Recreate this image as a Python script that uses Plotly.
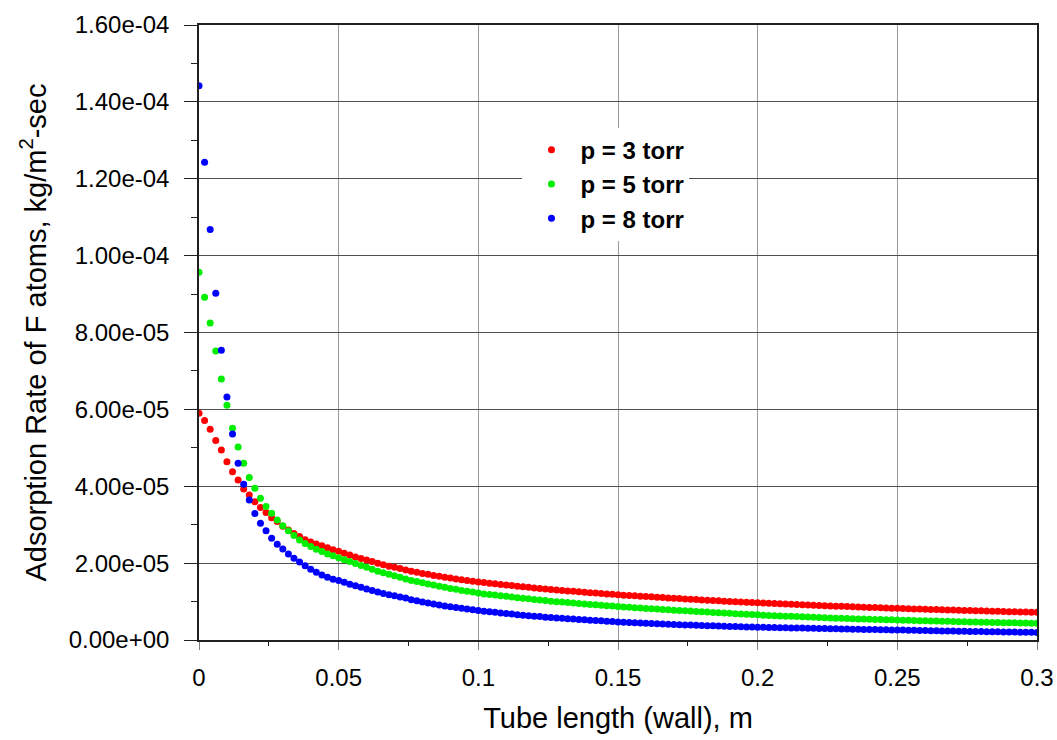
import numpy as np
import plotly.graph_objects as go

# Tube length along the wall, m (step 0.002 m, 151 stations)
tube_length = [round(0.002 * i, 3) for i in range(151)]

# Adsorption rate of F atoms, in units of 1e-5 kg/m^2-sec
rate_3torr = [
    5.90, 5.71, 5.48, 5.19, 4.94, 4.64, 4.38, 4.16, 3.93, 3.77,
    3.60, 3.45, 3.32, 3.18, 3.08, 2.96, 2.86, 2.77, 2.69, 2.61,
    2.55, 2.50, 2.45, 2.40, 2.35, 2.31, 2.26, 2.21, 2.16, 2.12,
    2.08, 2.04, 2.00, 1.96, 1.92, 1.89, 1.86, 1.82, 1.79, 1.76,
    1.73, 1.71, 1.68, 1.66, 1.63, 1.61, 1.59, 1.57, 1.55, 1.53,
    1.51, 1.494, 1.478, 1.462, 1.446, 1.430, 1.415, 1.400, 1.385, 1.370,
    1.356, 1.342, 1.328, 1.314, 1.302, 1.290, 1.278, 1.266, 1.254, 1.242,
    1.231, 1.220, 1.209, 1.198, 1.187, 1.176, 1.167, 1.158, 1.149, 1.140,
    1.131, 1.122, 1.113, 1.104, 1.095, 1.086, 1.077, 1.068, 1.059, 1.051,
    1.043, 1.035, 1.027, 1.019, 1.011, 1.003, 0.995, 0.988, 0.981, 0.974,
    0.967, 0.960, 0.953, 0.947, 0.940, 0.934, 0.928, 0.922, 0.916, 0.910,
    0.904, 0.898, 0.892, 0.886, 0.880, 0.875, 0.869, 0.864, 0.858, 0.853,
    0.848, 0.843, 0.838, 0.833, 0.828, 0.823, 0.818, 0.813, 0.809, 0.804,
    0.800, 0.795, 0.791, 0.787, 0.782, 0.778, 0.774, 0.770, 0.766, 0.762,
    0.758, 0.754, 0.750, 0.746, 0.742, 0.738, 0.735, 0.731, 0.728, 0.724,
    0.721,
]

rate_5torr = [
    9.57, 8.92, 8.25, 7.52, 6.79, 6.11, 5.51, 5.02, 4.60, 4.23,
    3.95, 3.69, 3.47, 3.30, 3.12, 2.97, 2.84, 2.72, 2.60, 2.51,
    2.43, 2.36, 2.30, 2.24, 2.19, 2.14, 2.09, 2.04, 1.99, 1.94,
    1.89, 1.84, 1.79, 1.75, 1.71, 1.67, 1.63, 1.59, 1.55, 1.52,
    1.49, 1.46, 1.43, 1.40, 1.37, 1.34, 1.32, 1.29, 1.27, 1.25,
    1.22, 1.20, 1.185, 1.17, 1.15, 1.135, 1.12, 1.10, 1.085, 1.07,
    1.055, 1.04, 1.025, 1.01, 0.998, 0.986, 0.974, 0.962, 0.950, 0.938,
    0.926, 0.915, 0.904, 0.893, 0.882, 0.871, 0.861, 0.851, 0.841, 0.831,
    0.822, 0.813, 0.804, 0.795, 0.786, 0.777, 0.768, 0.760, 0.752, 0.744,
    0.735, 0.727, 0.718, 0.710, 0.702, 0.694, 0.686, 0.678, 0.670, 0.662,
    0.654, 0.647, 0.640, 0.634, 0.627, 0.621, 0.615, 0.609, 0.603, 0.597,
    0.591, 0.585, 0.580, 0.574, 0.569, 0.564, 0.559, 0.554, 0.549, 0.544,
    0.540, 0.536, 0.532, 0.528, 0.524, 0.520, 0.516, 0.512, 0.508, 0.504,
    0.500, 0.496, 0.492, 0.489, 0.485, 0.482, 0.478, 0.475, 0.471, 0.468,
    0.465, 0.461, 0.458, 0.455, 0.452, 0.449, 0.446, 0.443, 0.440, 0.437,
    0.434,
]

rate_8torr = [
    14.42, 12.43, 10.68, 9.02, 7.54, 6.32, 5.36, 4.60, 4.05, 3.64,
    3.29, 3.04, 2.84, 2.65, 2.49, 2.37, 2.24, 2.13, 2.03, 1.93,
    1.84, 1.76, 1.69, 1.63, 1.58, 1.55, 1.50, 1.45, 1.41, 1.37,
    1.33, 1.29, 1.25, 1.21, 1.18, 1.15, 1.12, 1.09, 1.05, 1.02,
    0.99, 0.96, 0.935, 0.91, 0.885, 0.865, 0.845, 0.825, 0.805, 0.785,
    0.765, 0.75, 0.735, 0.72, 0.705, 0.69, 0.675, 0.66, 0.645, 0.63,
    0.62, 0.61, 0.595, 0.585, 0.575, 0.565, 0.555, 0.545, 0.535, 0.525,
    0.515, 0.505, 0.50, 0.49, 0.48, 0.47, 0.463, 0.456, 0.449, 0.442,
    0.435, 0.429, 0.423, 0.417, 0.411, 0.405, 0.399, 0.393, 0.388, 0.383,
    0.378, 0.373, 0.368, 0.363, 0.358, 0.353, 0.349, 0.345, 0.341, 0.337,
    0.333, 0.330, 0.327, 0.324, 0.321, 0.318, 0.315, 0.312, 0.309, 0.306,
    0.303, 0.300, 0.297, 0.294, 0.291, 0.288, 0.285, 0.282, 0.279, 0.276,
    0.273, 0.270, 0.267, 0.264, 0.262, 0.260, 0.257, 0.254, 0.251, 0.248,
    0.245, 0.242, 0.240, 0.237, 0.234, 0.232, 0.229, 0.227, 0.224, 0.222,
    0.219, 0.217, 0.215, 0.212, 0.210, 0.208, 0.206, 0.204, 0.202, 0.200,
    0.198,
]

series_names = ["p = 3 torr", "p = 5 torr", "p = 8 torr"]
series_colors = ["#FF0000", "#00EE00", "#0000FF"]

x_tickvals = [0, 0.05, 0.1, 0.15, 0.2, 0.25, 0.3]
x_ticktext = ["0", "0.05", "0.1", "0.15", "0.2", "0.25", "0.3"]
y_tickvals = [0, 2e-5, 4e-5, 6e-5, 8e-5, 1e-4, 1.2e-4, 1.4e-4, 1.6e-4]
y_ticktext = ["0.00e+00", "2.00e-05", "4.00e-05", "6.00e-05", "8.00e-05",
              "1.00e-04", "1.20e-04", "1.40e-04", "1.60e-04"]

FONT = "Liberation Sans, Arial, sans-serif"

fig = go.Figure()
for name, color, vals in zip(series_names, series_colors,
                             [rate_3torr, rate_5torr, rate_8torr]):
    fig.add_trace(go.Scatter(
        x=tube_length,
        y=np.array(vals) * 1e-5,
        mode="markers",
        name=name,
        marker=dict(size=7, color=color, line=dict(width=0)),
    ))

fig.update_layout(
    width=1057,
    height=740,
    margin=dict(l=199, r=20, t=25, b=100),
    paper_bgcolor="white",
    plot_bgcolor="white",
    font=dict(family=FONT, color="black"),
    showlegend=True,
    legend=dict(
        x=0.386, y=0.833, xanchor="left", yanchor="top",
        bgcolor="white",
        borderwidth=0,
        font=dict(family=FONT, size=24, color="black", weight="bold"),
        itemwidth=48,
        tracegroupgap=0,
    ),
)

fig.update_xaxes(
    range=[0, 0.3],
    automargin=False,
    tickmode="array",
    tickvals=x_tickvals,
    ticktext=x_ticktext,
    tickfont=dict(size=24),
    ticks="outside",
    ticklen=8,
    tickcolor="#808080",
    ticklabelstandoff=7,
    showgrid=True,
    gridcolor="#9A9A9A",
    gridwidth=1,
    showline=True,
    linecolor="#202020",
    linewidth=1.5,
    mirror=True,
    zeroline=False,
    minor=dict(tickvals=[0.025, 0.075, 0.125, 0.175, 0.225, 0.275],
               ticks="outside", ticklen=4, tickcolor="#202020", showgrid=False),
    title=dict(text="Tube length (wall), m", font=dict(size=29), standoff=18),
)

fig.update_yaxes(
    range=[0, 1.6e-4],
    automargin=False,
    tickmode="array",
    tickvals=y_tickvals,
    ticktext=y_ticktext,
    tickfont=dict(size=24),
    ticks="outside",
    ticklen=13,
    tickcolor="#202020",
    ticklabelstandoff=10,
    showgrid=True,
    gridcolor="#505050",
    gridwidth=1,
    showline=True,
    linecolor="#202020",
    linewidth=1.5,
    mirror=True,
    zeroline=False,
    minor=dict(tickvals=[1e-5, 3e-5, 5e-5, 7e-5, 9e-5, 1.1e-4, 1.3e-4, 1.5e-4],
               ticks="outside", ticklen=6, tickcolor="#202020", showgrid=False),
    title=dict(text="Adsorption Rate of F atoms, kg/m<sup>2</sup>-sec",
               font=dict(size=29), standoff=14),
)

fig.write_html("out.html")
